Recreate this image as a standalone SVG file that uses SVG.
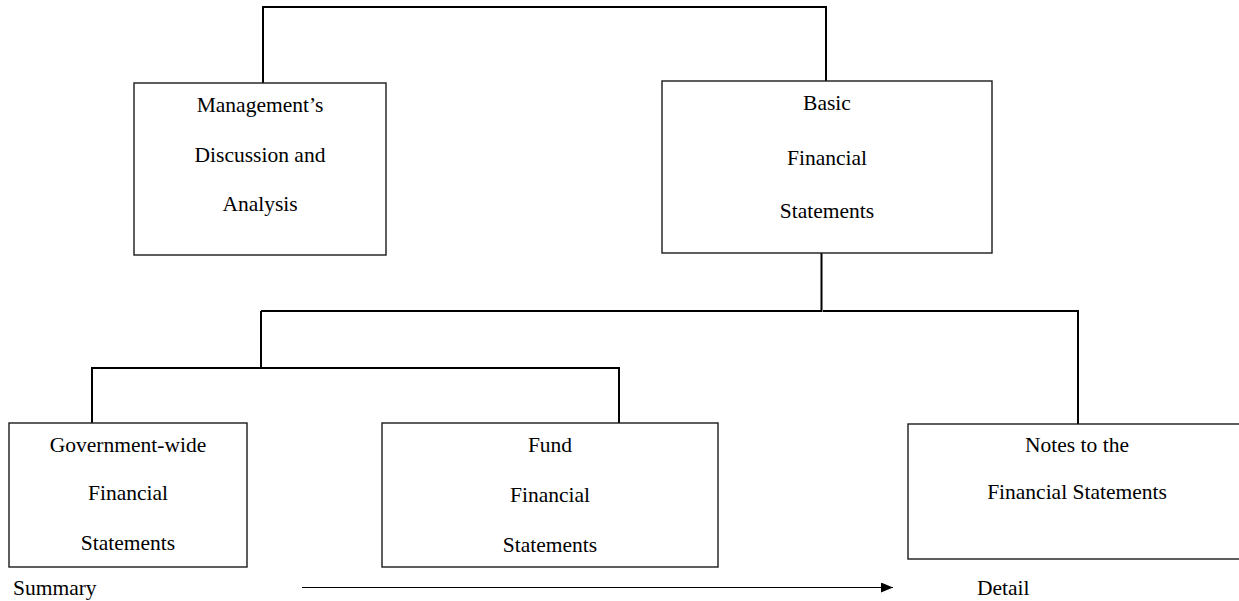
<svg xmlns="http://www.w3.org/2000/svg" width="1239" height="601" viewBox="0 0 1239 601">
<style>
.box{fill:#fff;stroke:#1a1a1a;stroke-width:1.4}
.con{fill:none;stroke:#000;stroke-width:2}
text{font-family:"Liberation Serif","Times New Roman",serif;font-size:21.5px;fill:#000}
.c{text-anchor:middle}
</style>
<defs>
<marker id="ah" markerWidth="12" markerHeight="10" refX="12" refY="5" orient="auto" markerUnits="userSpaceOnUse">
<path d="M0,0 L12,5 L0,10 Z" fill="#000"/>
</marker>
</defs>
<rect width="1239" height="601" fill="#fff"/>
<g id="connectors">
<path class="con" d="M263,83 V7 H826 V81"/>
<path class="con" d="M821.5,253 V311 H261"/>
<path class="con" d="M823,311 H1078 V424"/>
<path class="con" d="M261,311 V368"/>
<path class="con" d="M92,423 V368 H619 V423"/>
<path fill="none" stroke="#000" stroke-width="1.2" d="M302,587.5 H893" marker-end="url(#ah)"/>
</g>
<g id="mda">
<rect class="box" x="134" y="83" width="252" height="172"/>
<text class="c" x="260" y="112">Management’s</text>
<text class="c" x="260" y="162">Discussion and</text>
<text class="c" x="260" y="211">Analysis</text>
</g>
<g id="bfs">
<rect class="box" x="662" y="81" width="330" height="172"/>
<text class="c" x="827" y="110">Basic</text>
<text class="c" x="827" y="165">Financial</text>
<text class="c" x="827" y="218">Statements</text>
</g>
<g id="gov">
<rect class="box" x="9" y="423" width="238" height="144"/>
<text class="c" x="128" y="452">Government-wide</text>
<text class="c" x="128" y="500">Financial</text>
<text class="c" x="128" y="550">Statements</text>
</g>
<g id="fund">
<rect class="box" x="382" y="423" width="336" height="144"/>
<text class="c" x="550" y="452">Fund</text>
<text class="c" x="550" y="502">Financial</text>
<text class="c" x="550" y="552">Statements</text>
</g>
<g id="notes">
<rect class="box" x="908" y="424" width="340" height="135"/>
<text class="c" x="1077" y="452">Notes to the</text>
<text class="c" x="1077" y="499">Financial Statements</text>
</g>
<g id="axis">
<text x="13" y="595">Summary</text>
<text x="977" y="595">Detail</text>
</g>
</svg>
